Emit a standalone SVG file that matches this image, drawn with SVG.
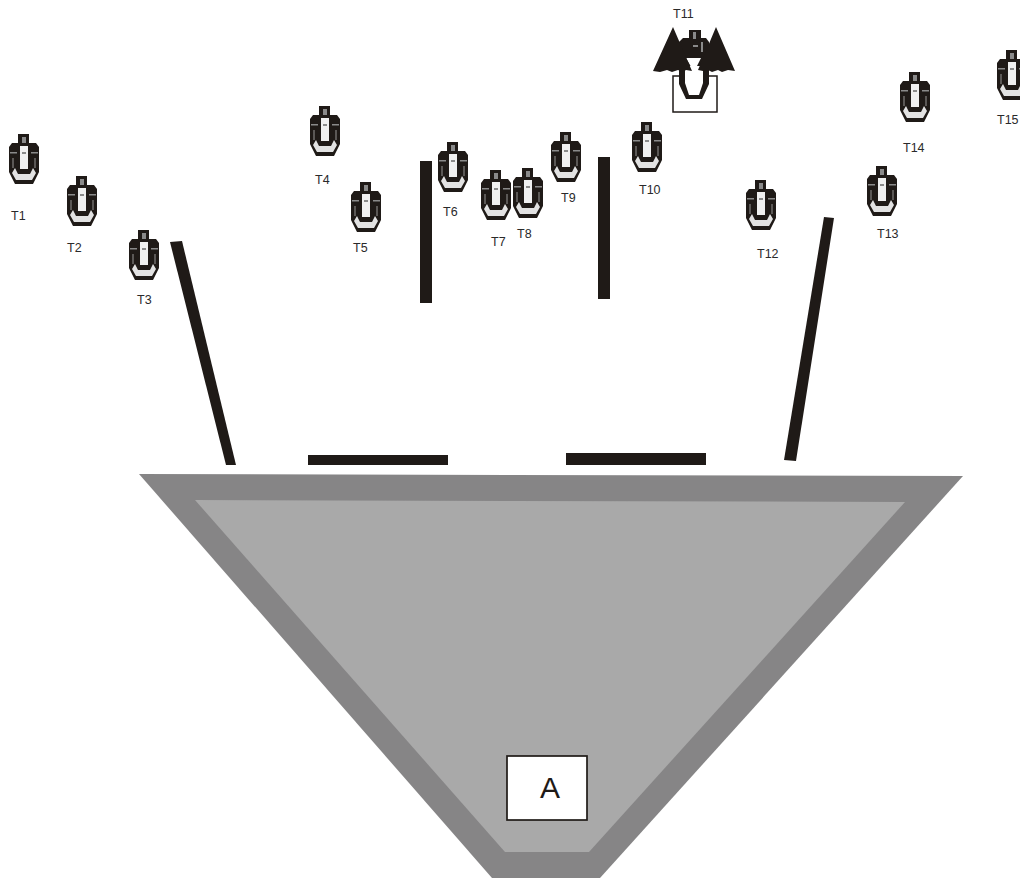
<svg xmlns="http://www.w3.org/2000/svg" width="1020" height="878" viewBox="0 0 1020 878">
<style>
.l{font:12.5px "Liberation Sans",Arial,sans-serif;fill:#2a2a2a}
.bar{fill:#1f1a17}
</style>
<defs>
<g id="t">
<path fill="#1f1a17" d="M9 0H20V9H27L30 13V38L24 50H6L0 38V13L3 9H9Z"/>
<path fill="none" stroke="#b8b8b8" stroke-width=".8" d="M4 24V34M26 24V34"/>
<path fill="#e2e2e2" d="M6 34L9 40H21L24 34L27 39L23 46H7L3 39Z"/>
<path fill="#f0f0f0" d="M11 12H19V35H11Z"/>
<path fill="#8a8a8a" d="M13 3H17V9H13ZM1 18H8V19.5H1ZM22 18H29V19.5H22ZM13 18H17V20H13Z"/>
</g>
</defs>
<g id="hopper">
<polygon fill="#868586" points="139,474 963,476 600,878 492,878"/>
<polygon fill="#a9a9a9" points="195,500 905,502 589,852 505,852"/>
</g>
<g id="walls">
<polygon class="bar" points="170,242 182,241 236,465 226,465"/>
<rect class="bar" x="308" y="455" width="140" height="10"/>
<rect class="bar" x="566" y="453" width="140" height="12"/>
<rect class="bar" x="420" y="161" width="12" height="142"/>
<rect class="bar" x="598" y="157" width="12" height="142"/>
<polygon class="bar" points="824,217 834,218 796,461 784,460"/>
</g>
<g id="A">
<rect x="507" y="756" width="80" height="64" fill="#fff" stroke="#1f1a17" stroke-width="1.7"/>
<text x="550" y="798" text-anchor="middle" font-family="Liberation Sans, Arial, sans-serif" font-size="30" fill="#1f1a17">A</text>
</g>
<g id="T1"><use href="#t" x="9" y="134"/><text class="l" x="11" y="220">T1</text></g>
<g id="T2"><use href="#t" x="67" y="176"/><text class="l" x="67" y="252">T2</text></g>
<g id="T3"><use href="#t" x="129" y="230"/><text class="l" x="137" y="304">T3</text></g>
<g id="T4"><use href="#t" x="310" y="106"/><text class="l" x="315" y="184">T4</text></g>
<g id="T5"><use href="#t" x="351" y="182"/><text class="l" x="353" y="252">T5</text></g>
<g id="T6"><use href="#t" x="438" y="142"/><text class="l" x="443" y="216">T6</text></g>
<g id="T7"><use href="#t" x="481" y="170"/><text class="l" x="491" y="246">T7</text></g>
<g id="T8"><use href="#t" x="513" y="168"/><text class="l" x="517" y="238">T8</text></g>
<g id="T9"><use href="#t" x="551" y="132"/><text class="l" x="561" y="202">T9</text></g>
<g id="T10"><use href="#t" x="632" y="122"/><text class="l" x="639" y="194">T10</text></g>
<g id="T11">
<rect x="673" y="76" width="44" height="36" fill="#fff" stroke="#1f1a17" stroke-width="1.5"/>
<path fill="#1f1a17" d="M689 30H701V38H706L709 42V84L702 99H686L679 84V42L683 38H689Z"/>
<path fill="#fff" d="M685 66H703V83L699 95H689L685 83Z"/>
<path fill="#8a8a8a" d="M693 32H696V39H693ZM693 45H698V47H693ZM701 42H703V52H701Z"/>
<polygon fill="#fff" points="686,58 701,58 694,72"/>
<polygon fill="#1f1a17" points="673,27 692,71 686,70 683,72 678,70 672,72 667,70 660,72 653,71"/>
<polygon fill="#1f1a17" points="716,27 735,71 728,70 722,72 718,70 712,72 708,70 703,71 698,70"/>
<text class="l" x="673" y="18">T11</text>
</g>
<g id="T12"><use href="#t" x="746" y="180"/><text class="l" x="757" y="258">T12</text></g>
<g id="T13"><use href="#t" x="867" y="166"/><text class="l" x="877" y="238">T13</text></g>
<g id="T14"><use href="#t" x="900" y="72"/><text class="l" x="903" y="152">T14</text></g>
<g id="T15"><use href="#t" x="997" y="50"/><text class="l" x="997" y="124">T15</text></g>
</svg>
